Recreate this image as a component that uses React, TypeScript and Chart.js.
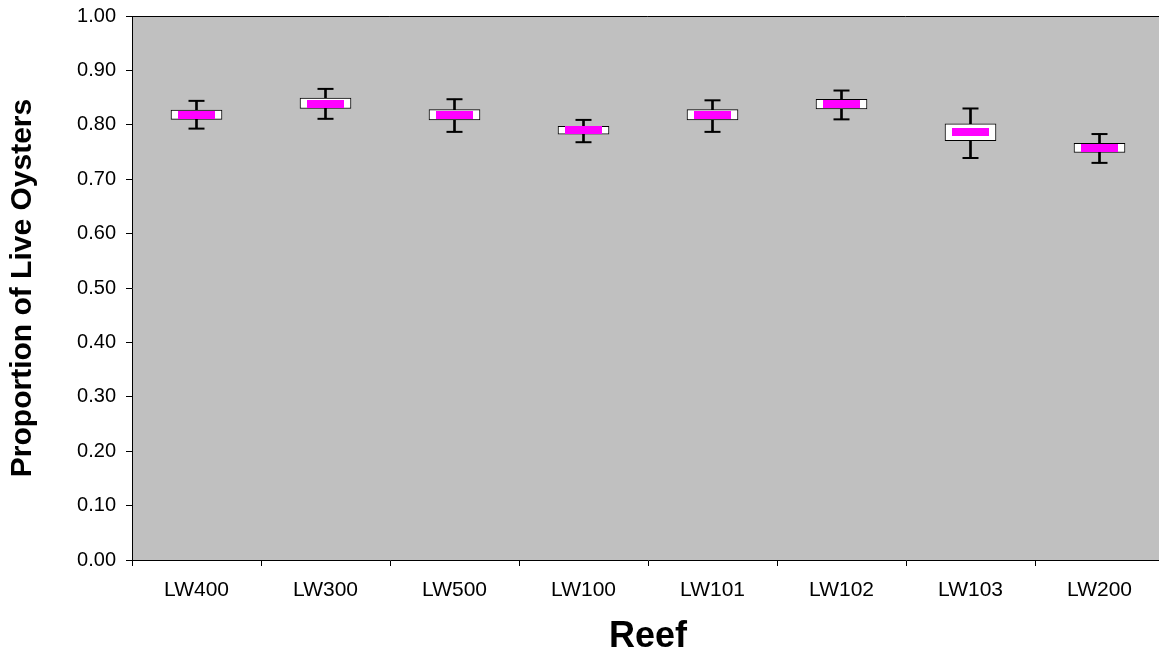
import React, { useEffect, useRef } from "react";
import { Chart, registerables } from "chart.js";

Chart.register(...registerables);

const categories = ["LW400", "LW300", "LW500", "LW100", "LW101", "LW102", "LW103", "LW200"];
const meanValues = [0.818, 0.839, 0.818, 0.790, 0.818, 0.838, 0.787, 0.757];
const boxLow = [0.810, 0.830, 0.809, 0.783, 0.809, 0.829, 0.771, 0.749];
const boxHigh = [0.827, 0.849, 0.828, 0.797, 0.828, 0.847, 0.802, 0.766];
const whiskerLow = [0.793, 0.811, 0.787, 0.768, 0.787, 0.810, 0.739, 0.730];
const whiskerHigh = [0.844, 0.866, 0.847, 0.809, 0.845, 0.863, 0.830, 0.783];
const yMin = 0;
const yMax = 1;
const yStep = 0.1;
const yTitle = "Proportion of Live Oysters";
const xTitle = "Reef";

const plotFrame = {
  id: "plotFrame",
  beforeDraw(chart: any) {
    const { ctx, chartArea: a } = chart;
    ctx.save();
    ctx.fillStyle = "#C0C0C0";
    ctx.fillRect(a.left, a.top, a.right - a.left, a.bottom - a.top);
    ctx.strokeStyle = "#000000";
    ctx.lineWidth = 1;
    ctx.beginPath();
    ctx.moveTo(a.left, a.top + 0.5);
    ctx.lineTo(a.right - 0.5, a.top + 0.5);
    ctx.lineTo(a.right - 0.5, a.bottom);
    ctx.stroke();
    ctx.restore();
  },
};

export default function App() {
  const canvasRef = useRef<HTMLCanvasElement | null>(null);

  useEffect(() => {
    const canvas = canvasRef.current;
    if (!canvas) return;

    const marker = document.createElement("canvas");
    marker.width = 37;
    marker.height = 8;
    const mctx = marker.getContext("2d");
    if (mctx) {
      mctx.fillStyle = "#FF00FF";
      mctx.fillRect(0, 0, 37, 8);
    }

    const chart = new Chart(canvas, {
      type: "bar",
      data: {
        labels: categories,
        datasets: [
          {
            type: "bar",
            data: whiskerLow.map((lo, i) => [lo, whiskerHigh[i]]),
            backgroundColor: "#000000",
            borderWidth: 0,
            barThickness: 2,
            grouped: false,
            order: 5,
          } as any,
          {
            type: "bar",
            data: boxLow.map((lo, i) => [lo, boxHigh[i]]),
            backgroundColor: "#FFFFFF",
            borderColor: "#000000",
            borderWidth: 1,
            borderSkipped: false,
            barThickness: 51,
            grouped: false,
            order: 4,
          } as any,
          {
            type: "line",
            data: whiskerHigh,
            showLine: false,
            pointStyle: "line",
            pointRadius: 8,
            pointBorderWidth: 2,
            pointBorderColor: "#000000",
            borderColor: "#000000",
            order: 3,
          } as any,
          {
            type: "line",
            data: whiskerLow,
            showLine: false,
            pointStyle: "line",
            pointRadius: 8,
            pointBorderWidth: 2,
            pointBorderColor: "#000000",
            borderColor: "#000000",
            order: 2,
          } as any,
          {
            type: "line",
            data: meanValues,
            showLine: false,
            pointStyle: marker,
            pointRadius: 5,
            order: 1,
          } as any,
        ],
      },
      options: {
        responsive: false,
        animation: false,
        devicePixelRatio: 1,
        layout: { autoPadding: false, padding: { top: 16, right: 6, left: 0, bottom: 0 } },
        plugins: {
          legend: { display: false },
          tooltip: { enabled: false },
        },
        scales: {
          x: {
            type: "category",
            offset: true,
            grid: {
              display: true,
              offset: true,
              drawOnChartArea: false,
              drawTicks: true,
              tickLength: 6,
              color: "#000000",
              lineWidth: 1,
            },
            border: { display: true, color: "#000000", width: 1 },
            ticks: {
              color: "#000000",
              padding: 12,
              maxRotation: 0,
              autoSkip: false,
              font: { family: "'Liberation Sans', Arial, sans-serif", size: 21 },
            },
            title: {
              display: true,
              text: xTitle,
              color: "#000000",
              padding: { top: 0, bottom: 0 },
              font: { family: "'Liberation Sans', Arial, sans-serif", size: 36, weight: "bold", lineHeight: 1 },
            },
            afterFit: (s: any) => {
              s.height = 95;
              s.paddingLeft = 0;
              s.paddingRight = 0;
              s.paddingTop = 0;
              s.paddingBottom = 0;
            },
          },
          y: {
            type: "linear",
            min: yMin,
            max: yMax,
            grid: {
              display: true,
              drawOnChartArea: false,
              drawTicks: true,
              tickLength: 6,
              color: "#000000",
              lineWidth: 1,
            },
            border: { display: true, color: "#000000", width: 1 },
            ticks: {
              stepSize: yStep,
              color: "#000000",
              padding: 10,
              font: { family: "'Liberation Sans', Arial, sans-serif", size: 20 },
              callback: (v: any) => Number(v).toFixed(2),
            },
            title: {
              display: true,
              text: yTitle,
              color: "#000000",
              padding: { top: 8, bottom: 0 },
              font: { family: "'Liberation Sans', Arial, sans-serif", size: 30, weight: "bold", lineHeight: 1 },
            },
            afterFit: (s: any) => {
              s.width = 132;
              s.paddingLeft = 0;
              s.paddingRight = 0;
              s.paddingTop = 0;
              s.paddingBottom = 0;
            },
          },
        },
      } as any,
      plugins: [plotFrame],
    });

    return () => {
      chart.destroy();
    };
  }, []);

  return (
    <div
      style={{
        position: "fixed",
        left: 0,
        top: 0,
        width: 1159,
        height: 655,
        overflow: "hidden",
        background: "#FFFFFF",
      }}
    >
      <div style={{ width: 1170, height: 655 }}>
        <canvas
          ref={canvasRef}
          width={1170}
          height={655}
          style={{ display: "block", width: 1170, height: 655 }}
        />
      </div>
    </div>
  );
}
